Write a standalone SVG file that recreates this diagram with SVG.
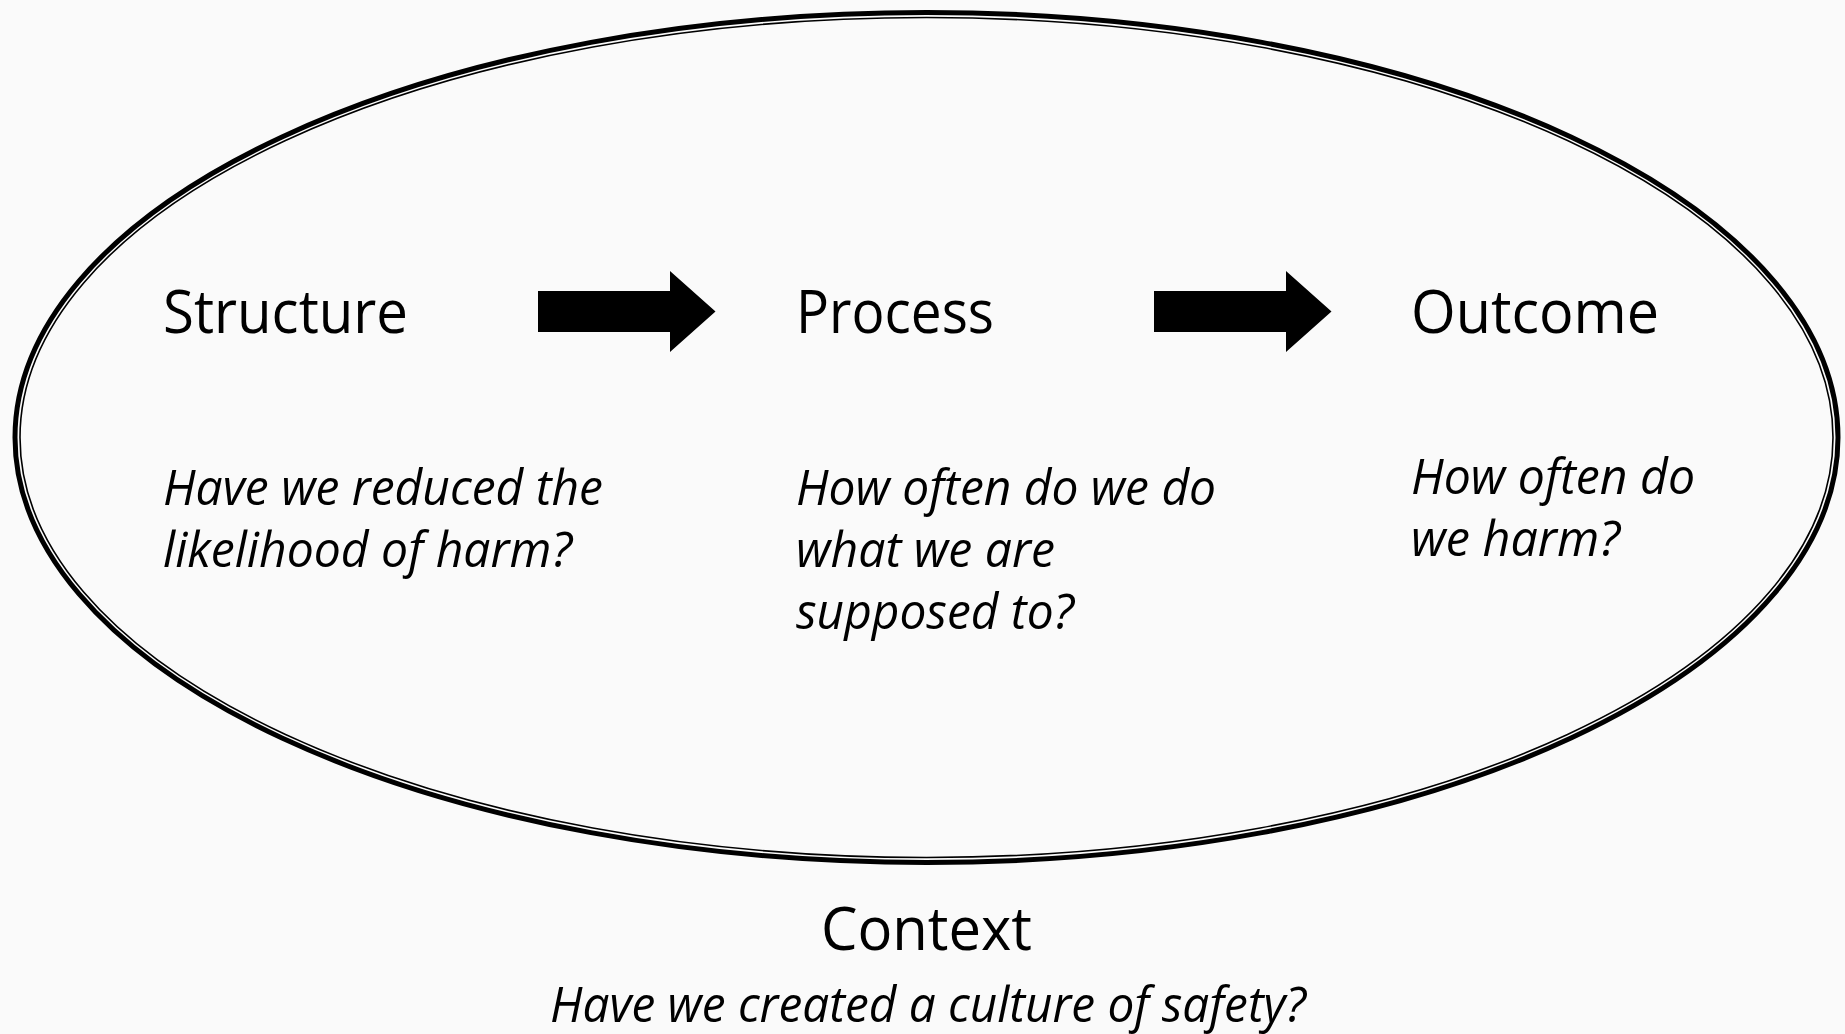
<svg xmlns="http://www.w3.org/2000/svg" xmlns:xlink="http://www.w3.org/1999/xlink" width="1845" height="1034" viewBox="0 0 1845 1034">
  <style>
    .bg { fill: #fafafa; }
    .ring-outer { fill: none; stroke: #000; stroke-width: 5; }
    .ring-inner { fill: none; stroke: #000; stroke-width: 1.6; }
    .title { font-family: "Open Sans", "Noto Sans", "Liberation Sans", sans-serif; font-size: 60px; fill: #000; }
    .question { font-family: "Open Sans", "Noto Sans", "Liberation Sans", sans-serif; font-size: 49px; font-style: italic; fill: #000; }
    .arrow { fill: #000; stroke: none; }
  </style>
  <defs>
    <path id="block-arrow" d="M0,20 H132 V0 L177.5,40.5 L132,81 V61 H0 Z"/>
  </defs>
  <rect class="bg" x="0" y="0" width="1845" height="1034"/>

  <g id="context-ellipse">
    <ellipse class="ring-outer" cx="926.5" cy="437.5" rx="911.5" ry="425"/>
    <ellipse class="ring-inner" cx="926.5" cy="437.5" rx="906.5" ry="420"/>
  </g>

  <g id="node-structure">
    <text class="title" x="163" y="333" textLength="245" lengthAdjust="spacingAndGlyphs">Structure</text>
    <text class="question" x="163" y="505" textLength="440" lengthAdjust="spacingAndGlyphs">Have we reduced the</text>
    <text class="question" x="163" y="567" textLength="409" lengthAdjust="spacingAndGlyphs">likelihood of harm?</text>
  </g>

  <g id="node-process">
    <text class="title" x="796" y="333" textLength="198" lengthAdjust="spacingAndGlyphs">Process</text>
    <text class="question" x="796" y="505" textLength="420" lengthAdjust="spacingAndGlyphs">How often do we do</text>
    <text class="question" x="796" y="567" textLength="259" lengthAdjust="spacingAndGlyphs">what we are</text>
    <text class="question" x="796" y="629" textLength="278" lengthAdjust="spacingAndGlyphs">supposed to?</text>
  </g>

  <g id="node-outcome">
    <text class="title" x="1411" y="333" textLength="248" lengthAdjust="spacingAndGlyphs">Outcome</text>
    <text class="question" x="1411" y="494" textLength="284" lengthAdjust="spacingAndGlyphs">How often do</text>
    <text class="question" x="1411" y="556" textLength="209" lengthAdjust="spacingAndGlyphs">we harm?</text>
  </g>

  <g id="node-context">
    <text class="title" x="821" y="950" textLength="211" lengthAdjust="spacingAndGlyphs">Context</text>
    <text class="question" x="550" y="1022" textLength="756" lengthAdjust="spacingAndGlyphs">Have we created a culture of safety?</text>
  </g>

  <g id="connectors">
    <use class="arrow" xlink:href="#block-arrow" href="#block-arrow" x="538" y="271"/>
    <use class="arrow" xlink:href="#block-arrow" href="#block-arrow" x="1154" y="271"/>
  </g>
</svg>
